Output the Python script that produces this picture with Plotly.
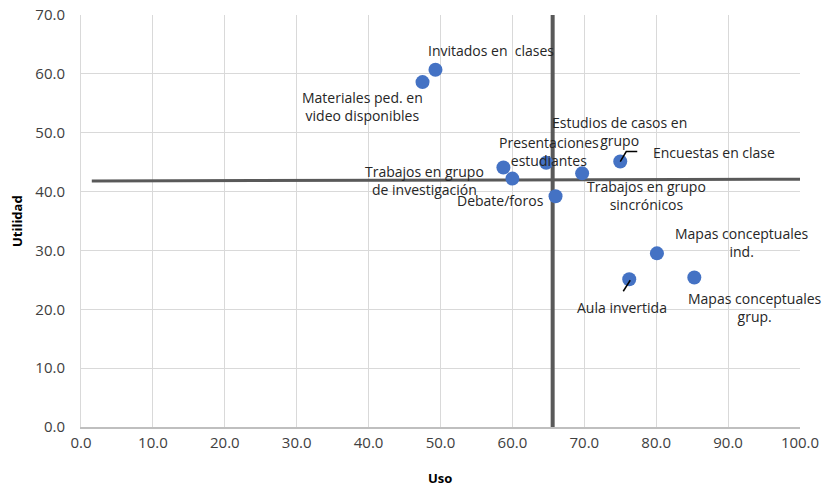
import plotly.graph_objects as go

# Data
labels = [
    "Invitados en  clases",
    "Materiales ped. en<br>video disponibles",
    "Trabajos en grupo<br>de investigación",
    "Debate/foros",
    "Presentaciones<br>estudiantes",
    "Trabajos en grupo<br>sincrónicos",
    "Estudios de casos en<br>grupo",
    "Encuestas en clase",
    "Mapas conceptuales<br>ind.",
    "Aula invertida",
    "Mapas conceptuales<br>grup.",
]
uso = [49.3, 47.5, 58.75, 60.0, 64.7, 66.0, 69.7, 75.0, 80.1, 76.25, 85.3]
utilidad = [60.7, 58.6, 44.1, 42.2, 44.9, 39.2, 43.1, 45.1, 29.5, 25.1, 25.4]

# label offsets (pixels) relative to points
label_dx = [56, -60, -79, -12, 3, 91, 37, 94, 85, -7, 61]
label_dy = [19, -24, -13, -22, 11, 1, 42, 9, 11, -28, -30]

# Mean reference lines
h_line_x = [1.5, 100.0]
h_line_y = [41.8, 42.1]
v_line_x = [65.6, 65.6]
v_line_y = [0.0, 70.0]

x_ticks = [0, 10, 20, 30, 40, 50, 60, 70, 80, 90, 100]
y_ticks = [0, 10, 20, 30, 40, 50, 60, 70]

FONT = "Open Sans"
TXT = "#262626"

fig = go.Figure()
fig.add_trace(go.Scatter(x=h_line_x, y=h_line_y, mode="lines",
                         line=dict(color="#595959", width=3), hoverinfo="skip", showlegend=False))
fig.add_trace(go.Scatter(x=v_line_x, y=v_line_y, mode="lines",
                         line=dict(color="#595959", width=4), hoverinfo="skip", showlegend=False))
fig.add_trace(go.Scatter(x=uso, y=utilidad, mode="markers",
                         marker=dict(color="#4472C4", size=14, line=dict(width=0)),
                         text=labels, showlegend=False))

for x, y, t, dx, dy in zip(uso, utilidad, labels, label_dx, label_dy):
    fig.add_annotation(x=x, y=y, text=t, showarrow=False, xshift=dx, yshift=dy,
                       font=dict(family=FONT, size=14, color=TXT), align="center")

# leader lines (pixel offsets anchored at data points)
i_enc = labels.index("Encuestas en clase")
fig.add_shape(type="path", xref="x", yref="y", xsizemode="pixel", ysizemode="pixel",
              xanchor=uso[i_enc], yanchor=utilidad[i_enc],
              path="M 0 0 L 6 10 L 17 10", line=dict(color="black", width=1.5))
i_aula = labels.index("Aula invertida")
fig.add_shape(type="path", xref="x", yref="y", xsizemode="pixel", ysizemode="pixel",
              xanchor=uso[i_aula], yanchor=utilidad[i_aula],
              path="M 1 -1 L -6 -12", line=dict(color="black", width=1.5))

# axis titles
fig.add_annotation(xref="paper", yref="paper", x=0.499, y=-0.124, text="<b>Uso</b>",
                   showarrow=False, font=dict(family=FONT, size=13, color="#000000"),
                   xanchor="center", yanchor="middle")
fig.add_annotation(xref="paper", yref="paper", x=-0.089, y=0.5, text="<b>Utilidad</b>",
                   showarrow=False, textangle=-90, font=dict(family=FONT, size=13, color="#000000"),
                   xanchor="center", yanchor="middle")

fig.update_layout(
    width=822, height=486,
    margin=dict(l=81, r=22, t=15, b=59, autoexpand=False),
    paper_bgcolor="white", plot_bgcolor="white",
    font=dict(family=FONT, size=15, color="#404040"),
    xaxis=dict(range=[0, 100], tickvals=x_ticks, tickformat=".1f", automargin=False,
               ticklabeloverflow="allow",
               showgrid=True, gridcolor="#d9d9d9", gridwidth=1,
               showline=True, linecolor="#bfbfbf", linewidth=1.5,
               zeroline=False, ticks="outside", ticklen=1, tickcolor="rgba(0,0,0,0)"),
    yaxis=dict(range=[0, 70], tickvals=y_ticks, tickformat=".1f", automargin=False,
               ticklabeloverflow="allow",
               showgrid=True, gridcolor="#d9d9d9", gridwidth=1,
               showline=True, linecolor="#d9d9d9", linewidth=1,
               zeroline=False, ticks="outside", ticklen=12, tickcolor="rgba(0,0,0,0)"),
)

fig.write_html("out.html", config={"displayModeBar": False},
               post_script="document.body.style.margin='0';document.body.style.overflow='hidden';")
